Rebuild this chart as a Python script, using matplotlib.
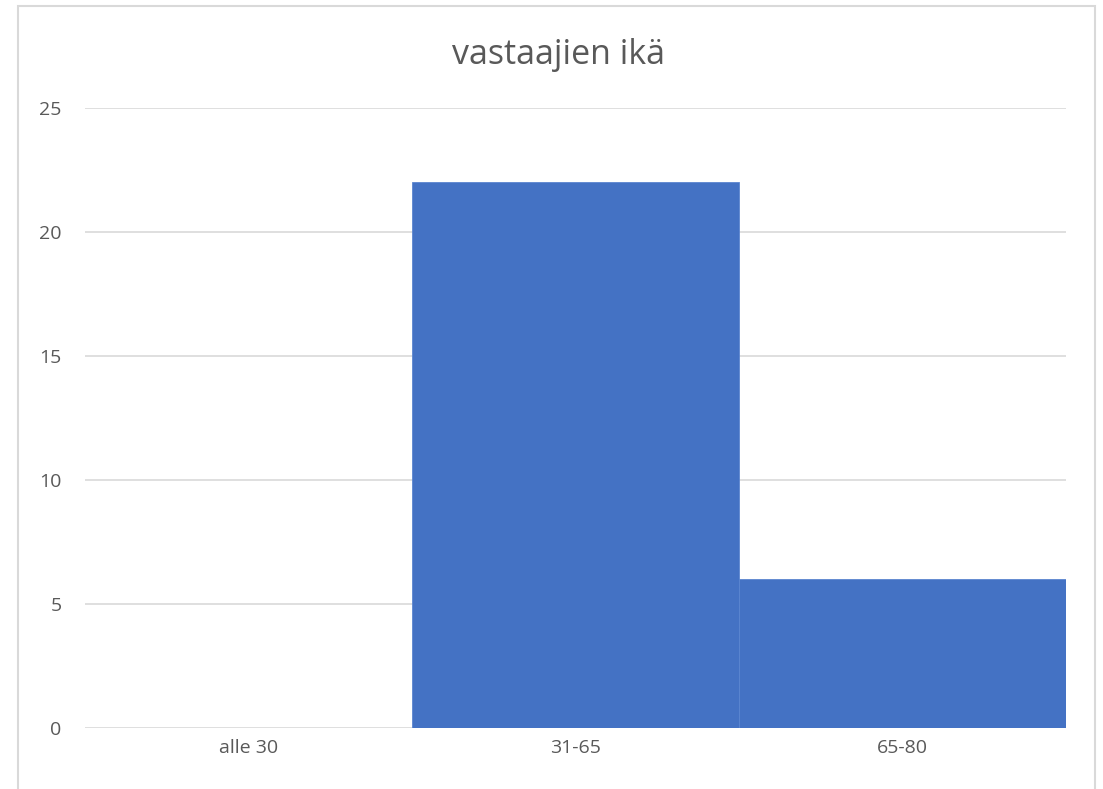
import matplotlib
matplotlib.use("Agg")
import matplotlib.pyplot as plt
from matplotlib.patches import Rectangle

categories = ["alle 30", "31-65", "65-80"]
values = [0, 22, 6]
yticks = [0, 5, 10, 15, 20, 25]
title = "vastaajien ikä"

plt.rcParams["font.family"] = ["Open Sans", "DejaVu Sans"]

W, H = 1103, 789
fig = plt.figure(figsize=(W / 100, H / 100), dpi=100)
fig.patch.set_facecolor("white")

# outer chart border
fig.patches.append(Rectangle((18 / W, -0.05), (1095 - 18) / W, 1.05 - 6 / H,
                             transform=fig.transFigure, fill=False,
                             edgecolor="#d9d9d9", linewidth=1.5))

ax = fig.add_axes([85 / W, (H - 728) / H, (1066 - 85) / W, (728 - 108) / H])
x = list(range(len(categories)))
ax.bar(x, values, width=1.0, color="#4472c4", edgecolor="#5b85d0", linewidth=0.6, zorder=3)
ax.set_xlim(-0.5, len(categories) - 0.5)
ax.set_ylim(0, 25)
ax.set_yticks(yticks)
ax.set_xticks(x)
ax.set_xticklabels(categories)
ax.grid(axis="y", color="#d9d9d9", linewidth=1.2, zorder=0)
for s in ax.spines.values():
    s.set_visible(False)
ax.tick_params(axis="both", length=0, labelsize=14, colors="#595959")
ax.tick_params(axis="y", pad=17)
ax.tick_params(axis="x", pad=8)
fig.text(558 / W, 1 - 55 / H, title, ha="center", va="center", fontsize=24.5, color="#595959")

fig.savefig("out.png", dpi=100)
